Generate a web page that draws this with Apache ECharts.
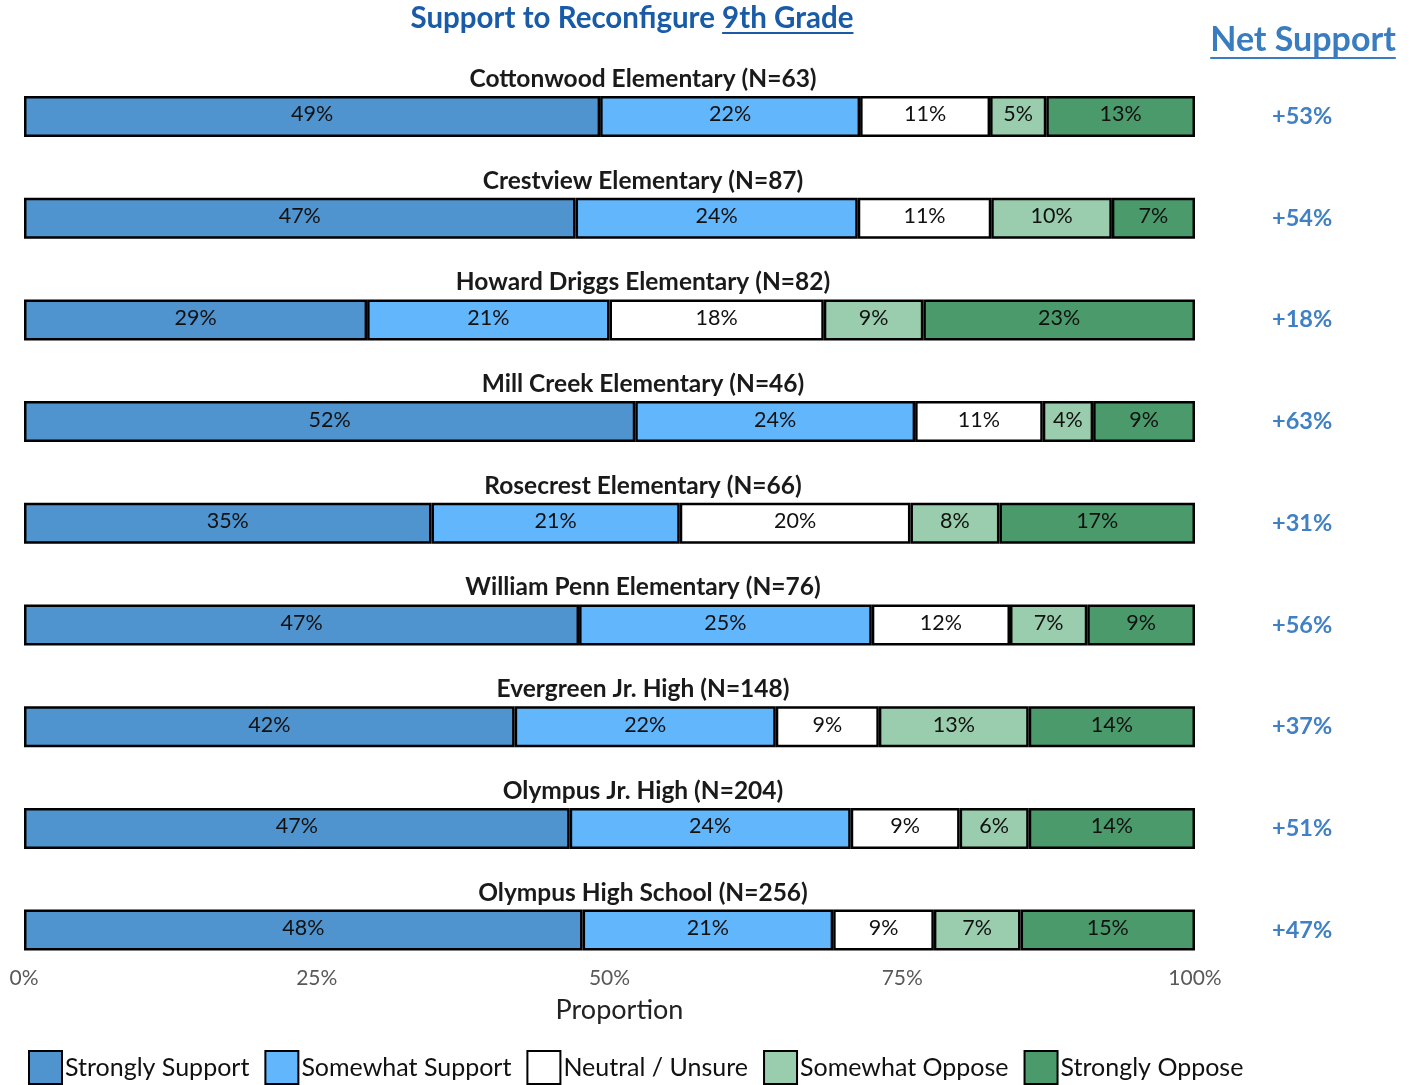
<!DOCTYPE html>
<html>
<head>
<meta charset="utf-8">
<script src="https://cdn.jsdelivr.net/npm/echarts@6/dist/echarts.min.js"></script>
<style>
  html, body { margin: 0; padding: 0; background: #fff; }
  #chart { width: 1419px; height: 1085px; }
</style>
</head>
<body>
<div id="chart"></div>
<script>
// school rows, top to bottom
const schools = [
  'Cottonwood Elementary (N=63)',
  'Crestview Elementary (N=87)',
  'Howard Driggs Elementary (N=82)',
  'Mill Creek Elementary (N=46)',
  'Rosecrest Elementary (N=66)',
  'William Penn Elementary (N=76)',
  'Evergreen Jr. High (N=148)',
  'Olympus Jr. High (N=204)',
  'Olympus High School (N=256)'
]
// percent of responses per answer
const strongSupport   = [49.2, 47.1, 29.3, 52.2, 34.8, 47.4, 41.9, 46.6, 47.7]
const somewhatSupport = [22.2, 24.1, 20.7, 23.9, 21.2, 25.0, 22.3, 24.0, 21.4]
const neutral         = [11.1, 11.4, 18.3, 10.9, 19.7, 11.8, 8.8, 9.3, 8.6]
const somewhatOppose  = [4.8, 10.3, 8.5, 4.3, 7.6, 6.6, 12.8, 5.9, 7.4]
const strongOppose    = [12.7, 7.1, 23.2, 8.7, 16.7, 9.2, 14.2, 14.2, 14.9]
const netSupport      = [53, 54, 18, 63, 31, 56, 37, 51, 47]
const xTicks = [0, 25, 50, 75, 100]

const answers = [
  { name: 'Strongly Support', data: strongSupport, color: '#4f94cf' },
  { name: 'Somewhat Support', data: somewhatSupport, color: '#62b6fb' },
  { name: 'Neutral / Unsure', data: neutral, color: '#ffffff' },
  { name: 'Somewhat Oppose', data: somewhatOppose, color: '#99cdad' },
  { name: 'Strongly Oppose', data: strongOppose, color: '#4a9a6b' }
]

const FONT = 'Lato'
const plotLeft = 24
const plotRight = 1195
const rowTop = 96
const rowStep = 101.7
const barH = 41
const titleX = 643

// measure text so underlines sit under the right words
const ctx = document.createElement('canvas').getContext('2d')
function textWidth(str, size, weight) {
  ctx.font = (weight || 'normal') + ' ' + size + 'px ' + FONT
  return ctx.measureText(str).width
}

const grids = []
const xAxes = []
const yAxes = []
const series = []
const graphics = []

schools.forEach((school, i) => {
  const top = rowTop + i * rowStep
  const last = i === schools.length - 1
  grids.push({ left: plotLeft, right: 1419 - plotRight, top: top, height: barH })
  xAxes.push({
    gridIndex: i,
    type: 'value',
    min: 0,
    max: 100,
    interval: 25,
    show: last,
    axisLine: { show: false },
    axisTick: { show: false },
    splitLine: { show: false },
    axisLabel: {
      formatter: v => (xTicks.includes(v) ? v + '%' : ''),
      color: '#595959',
      fontSize: 21,
      fontFamily: FONT,
      margin: 17
    },
    name: last ? 'Proportion' : '',
    nameLocation: 'middle',
    nameGap: 46,
    nameTextStyle: { fontSize: 27, color: '#222', fontFamily: FONT, padding: [0, 0, 0, 20] }
  })
  yAxes.push({
    gridIndex: i,
    type: 'category',
    data: [school],
    show: false
  })
  // net support text sits on a right-hand axis of each row
  yAxes.push({
    gridIndex: i,
    type: 'category',
    position: 'right',
    data: ['+' + netSupport[i] + '%'],
    axisLine: { show: false },
    axisTick: { show: false },
    axisLabel: {
      margin: 77,
      color: '#4080c4',
      fontWeight: 'bold',
      fontSize: 23.5,
      fontFamily: FONT,
      padding: [0, 0, 8, 0]
    }
  })
  answers.forEach(a => {
    series.push({
      type: 'bar',
      name: a.name,
      xAxisIndex: i,
      yAxisIndex: i * 2,
      stack: 'row' + i,
      barWidth: '100%',
      data: [a.data[i]],
      itemStyle: { color: a.color, borderColor: '#000', borderWidth: 2.5 },
      label: {
        show: true,
        position: 'inside',
        formatter: p => Math.round(p.value) + '%',
        color: '#111',
        fontSize: 21.5,
        fontFamily: FONT,
        offset: [0, -2]
      },
      emphasis: { disabled: true }
    })
  })
  graphics.push({
    type: 'text',
    x: titleX,
    y: top - 17,
    style: {
      text: school,
      textAlign: 'center',
      textVerticalAlign: 'middle',
      fill: '#1a1a1a',
      font: 'bold 24.5px ' + FONT
    }
  })
})

// main title, "9th Grade" underlined
const mainA = 'Support to Reconfigure '
const mainB = '9th Grade'
const mainSize = 29.5
const wA = textWidth(mainA, mainSize, 'bold')
const wB = textWidth(mainB, mainSize, 'bold')
const mainLeft = 632 - (wA + wB) / 2
graphics.push({
  type: 'text',
  x: mainLeft,
  y: 18,
  style: {
    text: mainA + mainB,
    textVerticalAlign: 'middle',
    fill: '#1a5ba8',
    font: 'bold ' + mainSize + 'px ' + FONT
  }
})
graphics.push({
  type: 'line',
  shape: { x1: mainLeft + wA, y1: 33, x2: mainLeft + wA + wB, y2: 33 },
  style: { stroke: '#1a5ba8', lineWidth: 2 }
})

// net support header
const netSize = 34
const wNet = textWidth('Net Support', netSize, 'bold')
graphics.push({
  type: 'text',
  x: 1303,
  y: 40,
  style: {
    text: 'Net Support',
    textAlign: 'center',
    textVerticalAlign: 'middle',
    fill: '#3a7cc0',
    font: 'bold ' + netSize + 'px ' + FONT
  }
})
graphics.push({
  type: 'line',
  shape: { x1: 1303 - wNet / 2, y1: 58, x2: 1303 + wNet / 2, y2: 58 },
  style: { stroke: '#3a7cc0', lineWidth: 2 }
})

const chart = echarts.init(document.getElementById('chart'), null, { renderer: 'canvas' })
chart.setOption({
  animation: false,
  grid: grids,
  xAxis: xAxes,
  yAxis: yAxes,
  series: series,
  graphic: graphics,
  legend: {
    data: answers.map(a => a.name),
    left: 28,
    top: 1050,
    padding: 0,
    icon: 'rect',
    itemWidth: 33,
    itemHeight: 33,
    itemGap: 15,
    selectedMode: false,
    itemStyle: { borderColor: '#000', borderWidth: 2 },
    textStyle: { fontSize: 25, color: '#111', fontFamily: FONT, padding: [4, 0, 0, -2] }
  }
})
</script>
</body>
</html>
